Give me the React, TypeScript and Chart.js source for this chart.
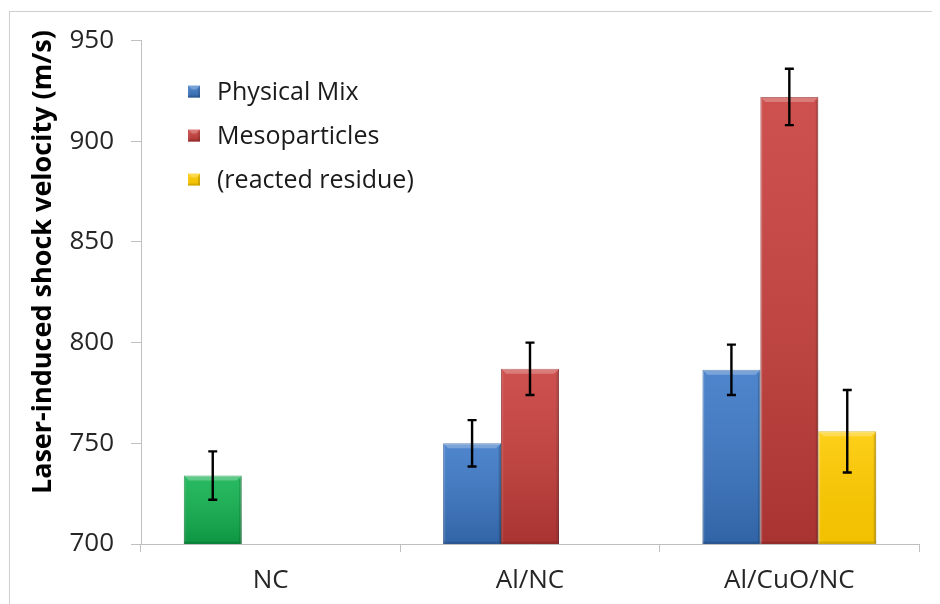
import React, { useEffect, useRef } from "react";
import { Chart, registerables } from "chart.js";

Chart.register(...registerables);

const categories = ["NC", "Al/NC", "Al/CuO/NC"];
const seriesLabels = ["Physical Mix", "Mesoparticles", "(reacted residue)"];
const physicalMix = [734, 750, 786.5];
const physicalMixErr = [12, 11.5, 12.5];
const mesoparticles = [null, 787, 922];
const mesoparticlesErr = [null, 13, 14];
const residue = [null, null, 756];
const residueErr = [null, null, 20.5];
const yTicks = [700, 750, 800, 850, 900, 950];
const yTitle = "Laser-induced shock velocity (m/s)";

const BLUE = "#3A77C6";
const RED = "#C83D3A";
const YELLOW = "#FFCB00";
const GREEN = "#10B24E";
const seriesColors = [BLUE, RED, YELLOW];
const errors = [physicalMixErr, mesoparticlesErr, residueErr];

const FONT = '"Open Sans", "Noto Sans", sans-serif';

function shade(ctx: CanvasRenderingContext2D, l: number, t: number, w: number, h: number, dark = 0.14) {
  if (h <= 0) return;
  const g = ctx.createLinearGradient(0, t, 0, t + h);
  g.addColorStop(0, "rgba(255,255,255,0.10)");
  g.addColorStop(1, `rgba(0,0,0,${dark})`);
  ctx.fillStyle = g;
  ctx.fillRect(l, t, w, h);
  const b = Math.min(5, h / 3);
  // top bevel
  ctx.fillStyle = "rgba(255,255,255,0.25)";
  ctx.beginPath();
  ctx.moveTo(l, t);
  ctx.lineTo(l + w, t);
  ctx.lineTo(l + w - b, t + b);
  ctx.lineTo(l + b, t + b);
  ctx.closePath();
  ctx.fill();
  // left bevel
  ctx.fillStyle = "rgba(255,255,255,0.06)";
  ctx.beginPath();
  ctx.moveTo(l, t);
  ctx.lineTo(l + b / 2, t + b);
  ctx.lineTo(l + b / 2, t + h - b / 2);
  ctx.lineTo(l, t + h);
  ctx.closePath();
  ctx.fill();
  // right bevel
  ctx.fillStyle = "rgba(0,0,0,0.14)";
  ctx.beginPath();
  ctx.moveTo(l + w, t);
  ctx.lineTo(l + w - b / 2, t + b);
  ctx.lineTo(l + w - b / 2, t + h - b / 2);
  ctx.lineTo(l + w, t + h);
  ctx.closePath();
  ctx.fill();
  // bottom bevel
  ctx.fillStyle = "rgba(0,0,0,0.12)";
  ctx.fillRect(l, t + h - b / 2, w, b / 2);
}

const decorPlugin = {
  id: "decor",
  afterDatasetsDraw(chart: any) {
    const ctx = chart.ctx as CanvasRenderingContext2D;
    const yScale = chart.scales.y;
    const area = chart.chartArea;
    ctx.save();
    chart.data.datasets.forEach((ds: any, di: number) => {
      const meta = chart.getDatasetMeta(di);
      meta.data.forEach((el: any, i: number) => {
        const v = ds.data[i];
        if (v === null || v === undefined) return;
        const p = el.getProps(["x", "y", "base", "width"], true);
        const bottom = Math.min(p.base, area.bottom);
        shade(ctx, p.x - p.width / 2, p.y, p.width, bottom - p.y, di === 2 ? 0.05 : 0.16);
      });
    });
    // error bars
    ctx.strokeStyle = "#000";
    ctx.lineWidth = 2.4;
    chart.data.datasets.forEach((ds: any, di: number) => {
      const meta = chart.getDatasetMeta(di);
      const errArr = errors[di];
      meta.data.forEach((el: any, i: number) => {
        const v = ds.data[i];
        const e = errArr[i];
        if (v === null || v === undefined || e === null || e === undefined) return;
        const x = el.getProps(["x"], true).x;
        const yt = yScale.getPixelForValue(v + e);
        const yb = yScale.getPixelForValue(v - e);
        ctx.beginPath();
        ctx.moveTo(x, yt);
        ctx.lineTo(x, yb);
        ctx.moveTo(x - 4.5, yt);
        ctx.lineTo(x + 4.5, yt);
        ctx.moveTo(x - 4.5, yb);
        ctx.lineTo(x + 4.5, yb);
        ctx.stroke();
      });
    });
    ctx.restore();
  },
  afterDraw(chart: any) {
    const ctx = chart.ctx as CanvasRenderingContext2D;
    const a = chart.chartArea;
    ctx.save();
    // legend
    ctx.font = `25px ${FONT}`;
    ctx.textBaseline = "middle";
    ctx.textAlign = "left";
    seriesLabels.forEach((lab, i) => {
      const cy = a.top + 51 + i * 44;
      const lx = a.left + 47;
      const s = 12;
      ctx.fillStyle = seriesColors[i];
      ctx.fillRect(lx, cy - s / 2, s, s);
      shade(ctx, lx, cy - s / 2, s, s, i === 2 ? 0.05 : 0.16);
      ctx.fillStyle = "#1a1a1a";
      ctx.fillText(lab, lx + 29, cy + 1);
    });
    // y title
    ctx.translate(35, a.top + 0.44 * (a.bottom - a.top));
    ctx.rotate(-Math.PI / 2);
    ctx.textAlign = "center";
    ctx.font = `bold 27px ${FONT}`;
    ctx.fillStyle = "#000";
    ctx.fillText(yTitle, 0, 0);
    ctx.restore();
  },
};

export default function App() {
  const ref = useRef<HTMLCanvasElement | null>(null);
  useEffect(() => {
    if (!ref.current) return;
    const chart = new Chart(ref.current, {
      type: "bar",
      data: {
        labels: categories,
        datasets: [
          {
            label: seriesLabels[0],
            data: physicalMix,
            backgroundColor: [GREEN, BLUE, BLUE],
            borderColor: ["#0E8C3E", "#2F5F9E", "#2F5F9E"],
            borderWidth: 1,
          },
          {
            label: seriesLabels[1],
            data: mesoparticles,
            backgroundColor: RED,
            borderColor: "#9A302E",
            borderWidth: 1,
          },
          {
            label: seriesLabels[2],
            data: residue,
            backgroundColor: YELLOW,
            borderColor: "#D9A800",
            borderWidth: 1,
          },
        ],
      },
      options: {
        animation: false,
        responsive: false,
        maintainAspectRatio: false,
        datasets: {
          bar: { categoryPercentage: 0.67, barPercentage: 1 },
        },
        layout: { padding: { left: 0, top: 29, right: 21, bottom: 0 } },
        plugins: {
          legend: { display: false },
          tooltip: { enabled: false },
          title: { display: false },
        },
        scales: {
          x: {
            type: "category",
            grid: {
              offset: true,
              drawOnChartArea: false,
              drawTicks: true,
              tickLength: 8,
              color: "#BFBFBF",
            },
            border: { display: true, color: "#BFBFBF", width: 1 },
            ticks: {
              color: "#262626",
              font: { family: FONT, size: 26 },
              padding: 13,
              maxRotation: 0,
            },
            afterFit(scale: any) {
              scale.height = 60;
            },
          },
          y: {
            min: 700,
            max: 950,
            afterBuildTicks(scale: any) {
              scale.ticks = yTicks.map((v) => ({ value: v }));
            },
            grid: {
              drawOnChartArea: false,
              drawTicks: true,
              tickLength: 10,
              color: "#BFBFBF",
            },
            border: { display: true, color: "#BFBFBF", width: 1 },
            ticks: {
              color: "#262626",
              font: { family: FONT, size: 26 },
              padding: 17,
            },
            afterFit(scale: any) {
              scale.width = 133;
            },
          },
        },
      },
      plugins: [decorPlugin],
    });
    return () => chart.destroy();
  }, []);

  return (
    <div style={{ position: "relative", width: 932, height: 596 }}>
      <div
        style={{
          position: "absolute",
          left: 1,
          top: 3,
          width: 931,
          height: 593,
          borderTop: "1px solid #CFCFCF",
          borderLeft: "1px solid #CFCFCF",
          boxSizing: "border-box",
        }}
      />
      <canvas
        ref={ref}
        width={932}
        height={596}
        style={{ position: "absolute", left: 0, top: 0, width: 932, height: 596 }}
      />
    </div>
  );
}
